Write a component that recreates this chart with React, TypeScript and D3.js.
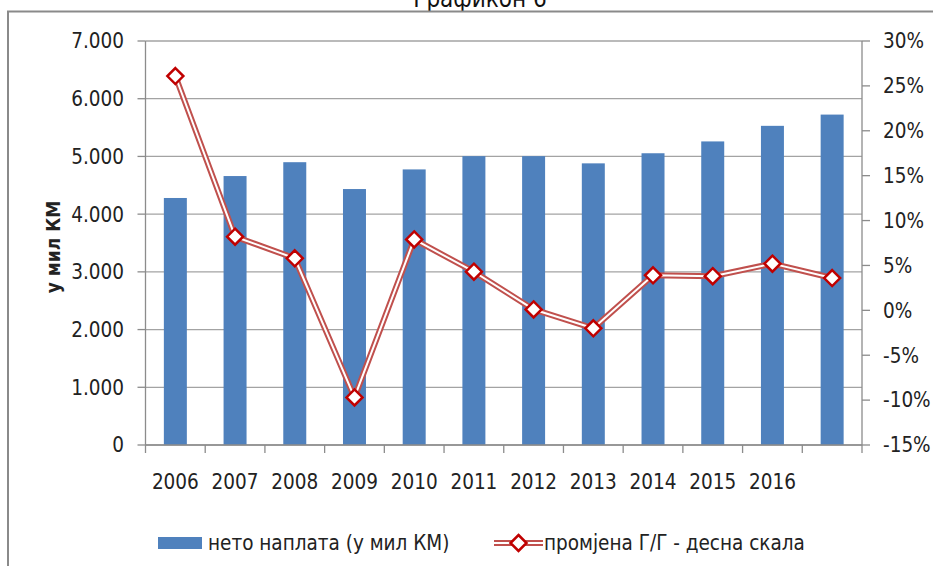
import React from "react";
import * as d3 from "d3";

const years = ["2006","2007","2008","2009","2010","2011","2012","2013","2014","2015","2016","2017"];
const xLabels = ["2006","2007","2008","2009","2010","2011","2012","2013","2014","2015","2016",""];
const netCollection = [4280, 4660, 4900, 4435, 4775, 5005, 5005, 4880, 5055, 5260, 5530, 5725];
const yoyChange = [26.1, 8.2, 5.8, -9.7, 7.9, 4.3, 0.1, -2.0, 3.9, 3.8, 5.2, 3.6];
const leftTicks = [0, 1000, 2000, 3000, 4000, 5000, 6000, 7000];
const rightTicks = [-15, -10, -5, 0, 5, 10, 15, 20, 25, 30];
const barLabel = "нето наплата (у мил КМ)";
const lineLabel = "промјена Г/Г - десна скала";
const yTitle = "у мил КМ";
const chartTitle = "Графикон 6";

const W = 933, H = 566;
const L = 145.5, R = 862, T = 41, B = 445;
const FONT = "'Liberation Sans Narrow', 'DejaVu Sans Condensed', sans-serif";
const FS = 20.5;
const fmtThousands = (v: number) => v === 0 ? "0" : d3.format(",")(v).replace(/,/g, ".");

export default function App() {
  const x = d3.scaleBand<string>().domain(years).range([L, R]).padding(0);
  const yL = d3.scaleLinear().domain([0, 7000]).range([B, T]);
  const yR = d3.scaleLinear().domain([-15, 30]).range([B, T]);
  const bw = x.bandwidth() * 0.385;
  const cx = (y: string) => (x(y) as number) + x.bandwidth() / 2;
  const pts: [number, number][] = years.map((y, i) => [cx(y), yR(yoyChange[i])]);
  const line = d3.line()(pts) as string;
  const diamond = (px: number, py: number, r: number) =>
    `M${px},${py - r}L${px + r},${py}L${px},${py + r}L${px - r},${py}Z`;
  const boundaries = d3.range(years.length + 1).map(i => L + i * x.bandwidth());

  return (
    <svg width={W} height={H} style={{ position: "absolute", left: 0, top: 0, background: "#fff" }} fontFamily={FONT}>
      <rect x={0} y={0} width={W} height={H} fill="#fff" />
      <text x={480} y={7} textAnchor="middle" fontSize={24} fill="#111">{chartTitle}</text>
      <path d={`M8,${H}V11.5H${W}`} fill="none" stroke="#8a8a8a" strokeWidth={2} />
      {leftTicks.map(t => (
        <line key={"g" + t} x1={L} x2={R} y1={yL(t)} y2={yL(t)} stroke="#a3a3a3" strokeWidth={1.3} />
      ))}
      {years.map((y, i) => (
        <rect key={y} x={cx(y) - bw / 2} y={yL(netCollection[i])} width={bw} height={B - yL(netCollection[i])} fill="#4f81bd" />
      ))}
      <line x1={L} x2={L} y1={T} y2={B} stroke="#8c8c8c" strokeWidth={1.3} />
      <line x1={R} x2={R} y1={T} y2={B} stroke="#8c8c8c" strokeWidth={1.3} />
      <line x1={L} x2={R} y1={B} y2={B} stroke="#8c8c8c" strokeWidth={1.3} />
      {leftTicks.map(t => (
        <g key={"lt" + t}>
          <line x1={L - 8} x2={L} y1={yL(t)} y2={yL(t)} stroke="#8c8c8c" strokeWidth={1.3} />
          <text x={124} y={yL(t)} dy="0.36em" textAnchor="end" fontSize={FS} fill="#222">{fmtThousands(t)}</text>
        </g>
      ))}
      {rightTicks.map(t => (
        <g key={"rt" + t}>
          <line x1={R} x2={R + 8} y1={yR(t)} y2={yR(t)} stroke="#8c8c8c" strokeWidth={1.3} />
          <text x={883} y={yR(t)} dy="0.36em" textAnchor="start" fontSize={FS} fill="#222">{t + "%"}</text>
        </g>
      ))}
      {boundaries.map((b, i) => (
        <line key={"xt" + i} x1={b} x2={b} y1={B} y2={B + 8} stroke="#8c8c8c" strokeWidth={1.3} />
      ))}
      {years.map((y, i) => (
        <text key={"xl" + y} x={cx(y)} y={489} textAnchor="middle" fontSize={FS} fill="#222">{xLabels[i]}</text>
      ))}
      <text transform={`translate(60,247) rotate(-90)`} textAnchor="middle" fontSize={19} fontWeight="bold" fill="#222">{yTitle}</text>
      <path d={line} fill="none" stroke="#c0504d" strokeWidth={6} strokeLinejoin="round" />
      <path d={line} fill="none" stroke="#fff" strokeWidth={2} strokeLinejoin="round" />
      {pts.map(([px, py], i) => (
        <path key={"m" + i} d={diamond(px, py, 8)} fill="#fff" stroke="#c00000" strokeWidth={2.5} />
      ))}
      <rect x={158} y={537} width={44} height={12} fill="#4f81bd" />
      <text x={208} y={543} dy="0.36em" fontSize={FS} fill="#222">{barLabel}</text>
      <line x1={494} x2={543} y1={543} y2={543} stroke="#c0504d" strokeWidth={6} />
      <line x1={494} x2={543} y1={543} y2={543} stroke="#fff" strokeWidth={2} />
      <path d={diamond(518.5, 543, 8)} fill="#fff" stroke="#c00000" strokeWidth={2.5} />
      <text x={544} y={543} dy="0.36em" fontSize={FS} fill="#222">{lineLabel}</text>
    </svg>
  );
}
